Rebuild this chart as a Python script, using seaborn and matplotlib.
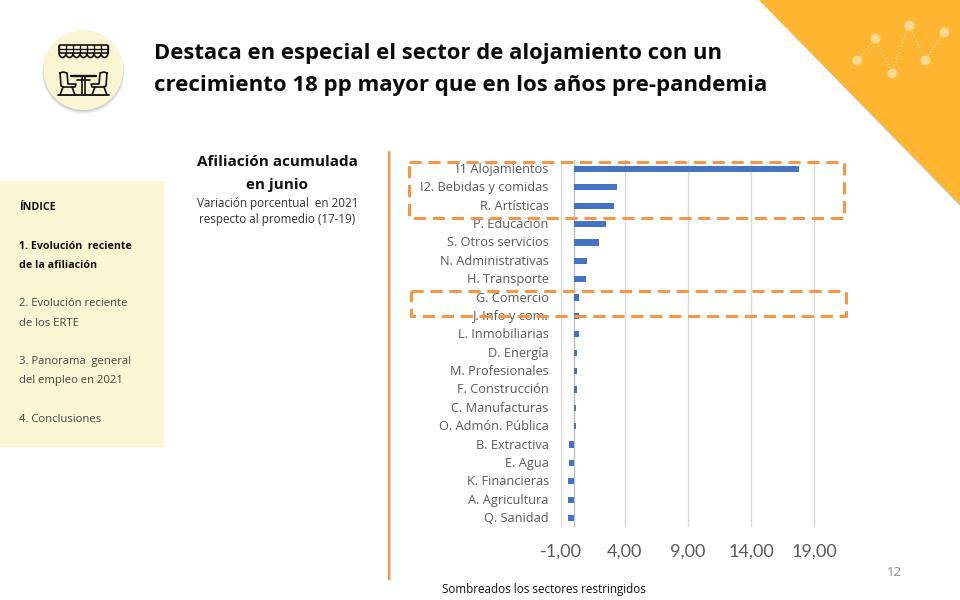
import numpy as np
import pandas as pd
import matplotlib
matplotlib.use("Agg")
import matplotlib.pyplot as plt
from matplotlib.patches import Circle, Polygon, Rectangle, FancyBboxPatch, Arc
from matplotlib.transforms import ScaledTranslation
import seaborn as sns

sectors = ["I1 Alojamientos", "I2. Bebidas y comidas", "R. Artísticas", "P. Educación",
           "S. Otros servicios", "N. Administrativas", "H. Transporte", "G. Comercio",
           "J. Info y com.", "L. Inmobiliarias", "D. Energía", "M. Profesionales",
           "F. Construcción", "C. Manufacturas", "O. Admón. Pública", "B. Extractiva",
           "E. Agua", "K. Financieras", "A. Agricultura", "Q. Sanidad"]
values = [17.8, 3.44, 3.2, 2.5, 1.94, 1.07, 0.99, 0.36, 0.36, 0.36,
          0.28, 0.28, 0.28, 0.13, 0.13, -0.36, -0.36, -0.5, -0.5, -0.5]
xticks = [-1, 4, 9, 14, 19]
xticklabels = ["-1,00", "4,00", "9,00", "14,00", "19,00"]
title_lines = ["Destaca en especial el sector de alojamiento con un",
               "crecimiento 18 pp mayor que en los años pre-pandemia"]
index_items = [("ÍNDICE", True, 207), ("1. Evolución  reciente", True, 246), ("de la afiliación", True, 265),
               ("2. Evolución reciente", False, 303), ("de los ERTE", False, 323),
               ("3. Panorama  general", False, 361), ("del empleo en 2021", False, 380),
               ("4. Conclusiones", False, 419)]

sns.set_theme(style="white")
plt.rcParams["font.family"] = ["Open Sans", "DejaVu Sans"]
W, H = 960, 600
fig = plt.figure(figsize=(W / 100, H / 100), dpi=100, facecolor="white")

# overlay in pixel coordinates
bg = fig.add_axes([0, 0, 1, 1], zorder=0)
bg.set_xlim(0, W); bg.set_ylim(H, 0); bg.axis("off")
top = fig.add_axes([0, 0, 1, 1], zorder=5)
top.set_xlim(0, W); top.set_ylim(H, 0); top.axis("off"); top.patch.set_alpha(0)

# chart
x0, x1, y0, y1 = 561.3, 840, 159.8, 527.2
ax = fig.add_axes([x0 / W, 1 - y1 / H, (x1 - x0) / W, (y1 - y0) / H], zorder=2)
ax.patch.set_alpha(0)
df = pd.DataFrame({"sector": sectors, "value": values})
sns.barplot(data=df, y="sector", x="value", color="#4472C4", saturation=1, width=0.34,
            linewidth=0, ax=ax)
ax.set_xlim(-1, -1 + (x1 - x0) / 12.655)
ax.set_xticks(xticks)
ax.set_xticklabels(xticklabels, fontsize=13, color="#595959", family="Lato")
ax.set_xlabel(""); ax.set_ylabel("")
ax.tick_params(axis="y", labelsize=9.2, labelcolor="#595959", length=0, pad=9)
ax.tick_params(axis="x", length=0, pad=12)
ax.grid(axis="x", color="#D9D9D9", lw=1, zorder=0.5)
ax.set_axisbelow(True)
ax.axvline(0, color="#BFBFBF", lw=1, zorder=0.6)
for s in ax.spines.values():
    s.set_visible(False)
shift = ScaledTranslation(0, 1 / 100, fig.dpi_scale_trans)
for lab in ax.get_yticklabels():
    lab.set_transform(lab.get_transform() + shift)

# corner triangle
bg.add_patch(Polygon([(760, 1), (960, 1), (960, 205.5)], closed=True, fc="#9A9A9A", ec="none", alpha=0.55))
bg.add_patch(Polygon([(759, 0), (960, 0), (960, 204)], closed=True, fc="#FFB52F", ec="none"))
px = [857, 875, 892, 909, 925, 944]
py = [60, 38, 72.5, 25, 60, 32]
bg.plot(px, py, color="#FFD98F", lw=1.1, ls=(0, (1, 1.2)))
bg.scatter(px, py, s=52, color="#FFD98F", zorder=3, linewidths=0)

# icon
cx, cy = 83.3, 70
for r, a, d in [(41, 0.10, 3), (40.5, 0.15, 2), (40, 0.2, 1)]:
    bg.add_patch(Circle((cx, cy + d), r, fc="#777777", ec="none", alpha=a))
bg.add_patch(Circle((cx, cy), 40, fc="#FAF5D3", ec="none"))
k = "#111111"
lw = 1.2
# awning
bg.add_patch(FancyBboxPatch((59, 45), 49, 8, boxstyle="round,pad=0,rounding_size=1.5", fc="none", ec=k, lw=lw))
bg.plot([59, 108], [49, 49], color=k, lw=lw * 0.8)
for i in range(8):
    xa = 59 + i * 49 / 7
    if i < 7:
        bg.add_patch(Arc((xa + 3.5, 53), 7, 9, theta1=0, theta2=180, color=k, lw=lw))
    bg.plot([xa, xa], [45, 53], color=k, lw=lw * 0.8)
# table & chairs
bg.plot([57.5, 109], [95, 95], color=k, lw=lw * 1.1)
bg.plot([71, 96], [76, 76], color=k, lw=lw * 1.4)
bg.plot([77, 90], [79.5, 79.5], color=k, lw=lw)
bg.plot([82, 82], [76, 95], color=k, lw=lw)
bg.plot([85, 85], [76, 95], color=k, lw=lw)
bg.plot([60, 61, 64, 75, 76, 68, 67, 63, 60], [73, 86, 87, 87, 84, 84, 73, 72, 73], color=k, lw=lw)
bg.plot([107, 106, 103, 92, 91, 99, 100, 104, 107], [73, 86, 87, 87, 84, 84, 73, 72, 73], color=k, lw=lw)
bg.plot([63, 60], [87, 95], color=k, lw=lw); bg.plot([72, 75], [87, 95], color=k, lw=lw)
bg.plot([104, 107], [87, 95], color=k, lw=lw); bg.plot([95, 92], [87, 95], color=k, lw=lw)

# title
for line, y, fs in zip(title_lines, [53, 85], [15.8, 16.0]):
    bg.text(153.5, y, line, fontsize=fs, fontweight="bold", color="#0B0B0B", ha="left", va="center")

# index panel
bg.add_patch(Rectangle((0, 181), 164, 266, fc="#FAF5D3", ec="none"))
for txt, bold, y in index_items:
    bg.text(19, y + 0.5, txt, fontsize=7.7 if bold else 8.1, fontweight="bold" if bold else "normal",
            color="#111111" if bold else "#444444", ha="left", va="center")

# subtitle
bg.text(277.5, 162, "Afiliación acumulada", fontsize=11, fontweight="bold", color="#111111", ha="center", va="center")
bg.text(277.5, 185, "en junio", fontsize=11, fontweight="bold", color="#111111", ha="center", va="center")
bg.text(277.5, 204, "Variación porcentual  en 2021", fontsize=8.4, color="#333333", ha="center", va="center")
bg.text(277.5, 220, "respecto al promedio (17-19)", fontsize=8.4, color="#333333", ha="center", va="center")

# separator
bg.plot([389.7, 389.7], [152, 580], color="#B0B0B0", lw=1.4, alpha=0.5)
bg.plot([388.7, 388.7], [152, 579], color="#F79646", lw=1.5)

# highlight boxes
for xa, ya, xb, yb in [(409, 162, 844, 218), (411, 291, 846, 316)]:
    top.add_patch(Rectangle((xa, ya), xb - xa, yb - ya, fc="none", ec="#F79646", lw=2.2,
                            ls=(0, (4, 2.2)), joinstyle="round"))

# notes
bg.text(442, 590, "Sombreados los sectores restringidos", fontsize=8.4, color="#111111", ha="left", va="center")
bg.text(894.5, 573, "12", fontsize=9.5, color="#8C8C8C", ha="center", va="center")

fig.savefig("out.png", dpi=100, facecolor="white")
